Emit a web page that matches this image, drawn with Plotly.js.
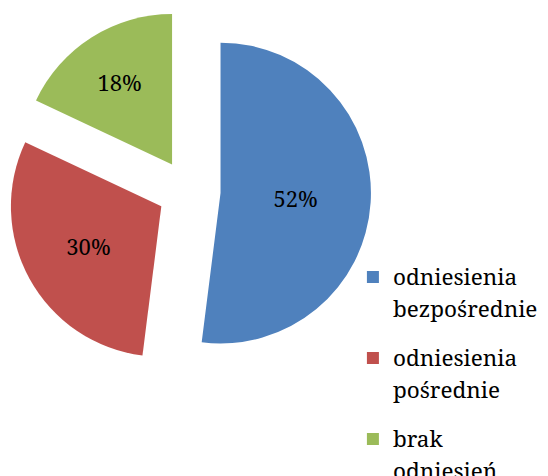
<!DOCTYPE html>
<html><head><meta charset="utf-8">
<script src="https://cdn.plot.ly/plotly-3.0.1.min.js"></script>
<style>body{margin:0;padding:0;background:#fff}#chart{width:548px;height:476px}</style>
</head><body><div id="chart"></div>
<script>
const categories = [["odniesienia", "bezpośrednie"], ["odniesienia", "pośrednie"], ["brak", "odniesień"]];
const values = [52, 30, 18];
const colors = ["#4F81BD", "#C0504D", "#9BBB59"];
const labelsText = values.map(v => v + "%");
// legend labels: enlarged glyphs, second line nudged down, trailing blank line for entry spacing
const legendLabels = categories.map(lines =>
  '<span style="font-size:22.5px">' + lines[0] + '</span><br>' +
  '<span style="font-size:22.5px;baseline-shift:-6px">' + lines[1] + '</span><br>\u00a0');

const data = [{
  type: "pie",
  labels: legendLabels,
  values: values,
  text: labelsText,
  textinfo: "text",
  textposition: "inside",
  insidetextorientation: "horizontal",
  sort: false,
  direction: "clockwise",
  rotation: 0,
  pull: [0.21, 0.21, 0.21],
  marker: {colors: colors, line: {width: 0}},
  textfont: {family: "Noto Serif", size: 22, color: "#000"},
  domain: {x: [0.0128, 0.677], y: [0.216, 0.981]},
  hoverinfo: "none"
}];
const layout = {
  width: 548, height: 476,
  margin: {l: 0, r: 0, t: 0, b: 0, autoexpand: false},
  paper_bgcolor: "#fff",
  font: {family: "Noto Serif", color: "#000"},
  showlegend: true,
  legend: {
    x: 0.644, y: 0.459, xanchor: "left", yanchor: "top", bgcolor: "rgba(0,0,0,0)",
    font: {family: "Noto Serif", size: 20, color: "#000"},
    valign: "top", itemwidth: 30
  }
};
Plotly.newPlot("chart", data, layout, {staticPlot: true});
</script></body></html>
